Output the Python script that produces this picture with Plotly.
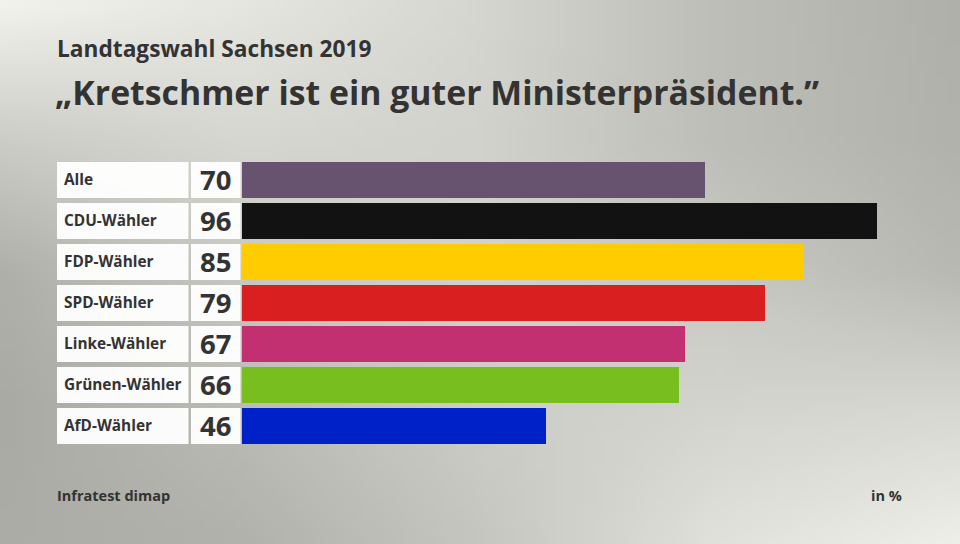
import base64, struct, zlib
import plotly.graph_objects as go

# ---- data ----
categories = ["Alle", "CDU-Wähler", "FDP-Wähler", "SPD-Wähler", "Linke-Wähler", "Grünen-Wähler", "AfD-Wähler"]
values = [70, 96, 85, 79, 67, 66, 46]
bar_colors = ["#67526f", "#121212", "#ffcc00", "#d91f1f", "#c23071", "#78be1e", "#0020c8"]

subtitle = "Landtagswahl Sachsen 2019"
title = "„Kretschmer ist ein guter Ministerpräsident.”"
source = "Infratest dimap"
unit = "in %"

# ---- background gradient (style only) ----
grid = [
    [242, 230, 214, 190, 176],
    [205, 215, 210, 190, 178],
    [176, 200, 210, 200, 185],
    [170, 188, 205, 212, 215],
    [172, 178, 198, 225, 238],
]
W, H = 96, 54
rows = []
for j in range(H):
    gy = j / (H - 1) * (len(grid) - 1)
    j0 = min(int(gy), len(grid) - 2); fy = gy - j0
    row = bytearray()
    for i in range(W):
        gx = i / (W - 1) * (len(grid[0]) - 1)
        i0 = min(int(gx), len(grid[0]) - 2); fx = gx - i0
        v = (grid[j0][i0] * (1 - fx) * (1 - fy) + grid[j0][i0 + 1] * fx * (1 - fy)
             + grid[j0 + 1][i0] * (1 - fx) * fy + grid[j0 + 1][i0 + 1] * fx * fy)
        v = int(round(v))
        row += bytes([v, v, max(0, v - 6)])
    rows.append(bytes(row))

def chunk(t, d):
    c = t + d
    return struct.pack(">I", len(d)) + c + struct.pack(">I", zlib.crc32(c) & 0xffffffff)

raw = b"".join(b"\x00" + r for r in rows)
png = (b"\x89PNG\r\n\x1a\n" + chunk(b"IHDR", struct.pack(">IIBBBBB", W, H, 8, 2, 0, 0, 0))
       + chunk(b"IDAT", zlib.compress(raw)) + chunk(b"IEND", b""))
bg_uri = "data:image/png;base64," + base64.b64encode(png).decode()

FONT = "Open Sans"
TXT = "#333333"
PW, PH = 960, 544

fig = go.Figure()
# label cells
fig.add_trace(go.Bar(y=categories, x=[1] * len(categories), orientation="h", xaxis="x2", yaxis="y",
                     marker=dict(color="rgba(255,255,255,0.95)", line=dict(width=0)), width=0.875,
                     hoverinfo="skip", showlegend=False))
# value cells
fig.add_trace(go.Bar(y=categories, x=[1] * len(categories), orientation="h", xaxis="x3", yaxis="y",
                     marker=dict(color="rgba(255,255,255,0.95)", line=dict(width=0)), width=0.875,
                     hoverinfo="skip", showlegend=False))
# data bars
fig.add_trace(go.Bar(y=categories, x=values, orientation="h", xaxis="x", yaxis="y",
                     marker=dict(color=bar_colors, line=dict(width=0)), width=0.875,
                     showlegend=False))

ann = []
for c, v in zip(categories, values):
    ann.append(dict(x=62 / PW, y=c, xref="paper", yref="y", text=f"<b>{c}</b>", showarrow=False,
                    xanchor="left", yanchor="middle", font=dict(family=FONT, size=15.4, color=TXT)))
    ann.append(dict(x=233 / PW, y=c, xref="paper", yref="y", text=f"<b>{v}</b>", showarrow=False,
                    xanchor="right", yanchor="middle", font=dict(family=FONT, size=27.5, color=TXT)))

ann += [
    dict(x=55 / PW, y=1 - 48 / PH, xref="paper", yref="paper", text=f"<b>{subtitle}</b>", showarrow=False,
         xanchor="left", yanchor="middle", font=dict(family=FONT, size=22.7, color=TXT)),
    dict(x=53 / PW, y=1 - 92 / PH, xref="paper", yref="paper", text=f"<b>{title}</b>", showarrow=False,
         xanchor="left", yanchor="middle", font=dict(family=FONT, size=33.8, color=TXT)),
    dict(x=55 / PW, y=1 - 495 / PH, xref="paper", yref="paper", text=f"<b>{source}</b>", showarrow=False,
         xanchor="left", yanchor="middle", font=dict(family=FONT, size=14.5, color=TXT)),
    dict(x=904 / PW, y=1 - 495 / PH, xref="paper", yref="paper", text=f"<b>{unit}</b>", showarrow=False,
         xanchor="right", yanchor="middle", font=dict(family=FONT, size=14.5, color=TXT)),
]

row_top, row_bot = 158.5, 446.5
fig.update_layout(
    width=PW, height=PH, margin=dict(l=0, r=0, t=0, b=0),
    paper_bgcolor="#d6d6d0", plot_bgcolor="rgba(0,0,0,0)",
    bargap=0,
    images=[dict(source=bg_uri, xref="paper", yref="paper", x=0, y=1, sizex=1, sizey=1,
                 sizing="stretch", layer="below", xanchor="left", yanchor="top")],
    xaxis=dict(domain=[242 / PW, (242 + 100 * 635 / 96) / PW], range=[0, 100], visible=False, fixedrange=True),
    xaxis2=dict(domain=[57 / PW, 188.5 / PW], range=[0, 1], visible=False, anchor="y"),
    xaxis3=dict(domain=[190.5 / PW, 240.5 / PW], range=[0, 1], visible=False, anchor="y"),
    yaxis=dict(domain=[1 - row_bot / PH, 1 - row_top / PH], autorange="reversed", visible=False,
               categoryorder="array", categoryarray=categories),
    annotations=ann,
)

fig.write_html("out.html")
